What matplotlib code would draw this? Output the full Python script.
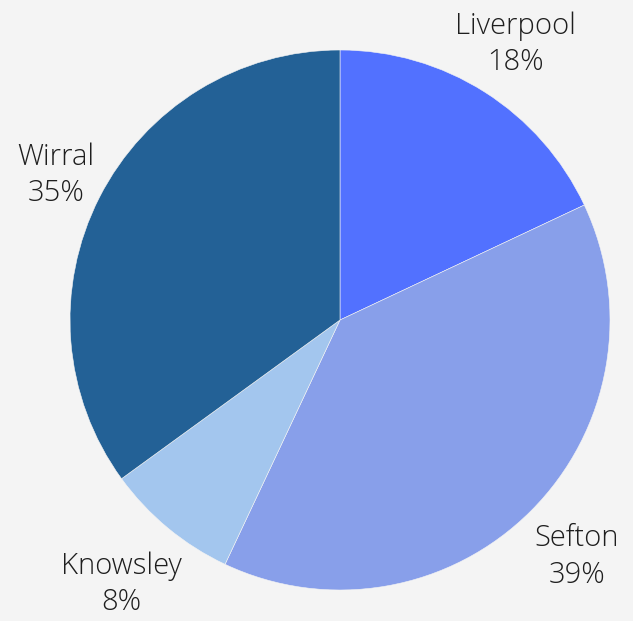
import numpy as np
import matplotlib.pyplot as plt

plt.rcParams['font.family'] = ['Open Sans', 'DejaVu Sans']

regions = ['Liverpool', 'Sefton', 'Knowsley', 'Wirral']
shares = [18, 39, 8, 35]
colors = ['#5271FF', '#889FEA', '#A3C6EE', '#236196']
label_dist = [1.21, 1.24, 1.27, 1.18]

W, H = 633, 621
cx, cy, R = 340, 301, 270  # pie centre (from bottom-left) and radius in px

fig = plt.figure(figsize=(W / 100, H / 100), dpi=100, facecolor='#f4f4f4')
ax = fig.add_axes([0, 0, 1, 1])
ax.set_facecolor('#f4f4f4')

wedges, _ = ax.pie(shares, colors=colors, startangle=90, counterclock=False,
                   radius=1, center=(0, 0),
                   wedgeprops=dict(edgecolor='#f4f4f4', linewidth=0.4))

ax.set_xlim(-cx / R, (W - cx) / R)
ax.set_ylim(-cy / R, (H - cy) / R)
ax.set_aspect('equal')
ax.axis('off')

total = sum(shares)
for w, name, v, d in zip(wedges, regions, shares, label_dist):
    mid = np.deg2rad((w.theta1 + w.theta2) / 2)
    x, y = d * np.cos(mid), d * np.sin(mid)
    ax.text(x, y, f'{name}\n{round(100 * v / total)}%', ha='center', va='center',
            fontsize=21, fontweight='light', color='#1e1e1e', linespacing=1.3)

fig.savefig('out.png', dpi=100, facecolor=fig.get_facecolor())
